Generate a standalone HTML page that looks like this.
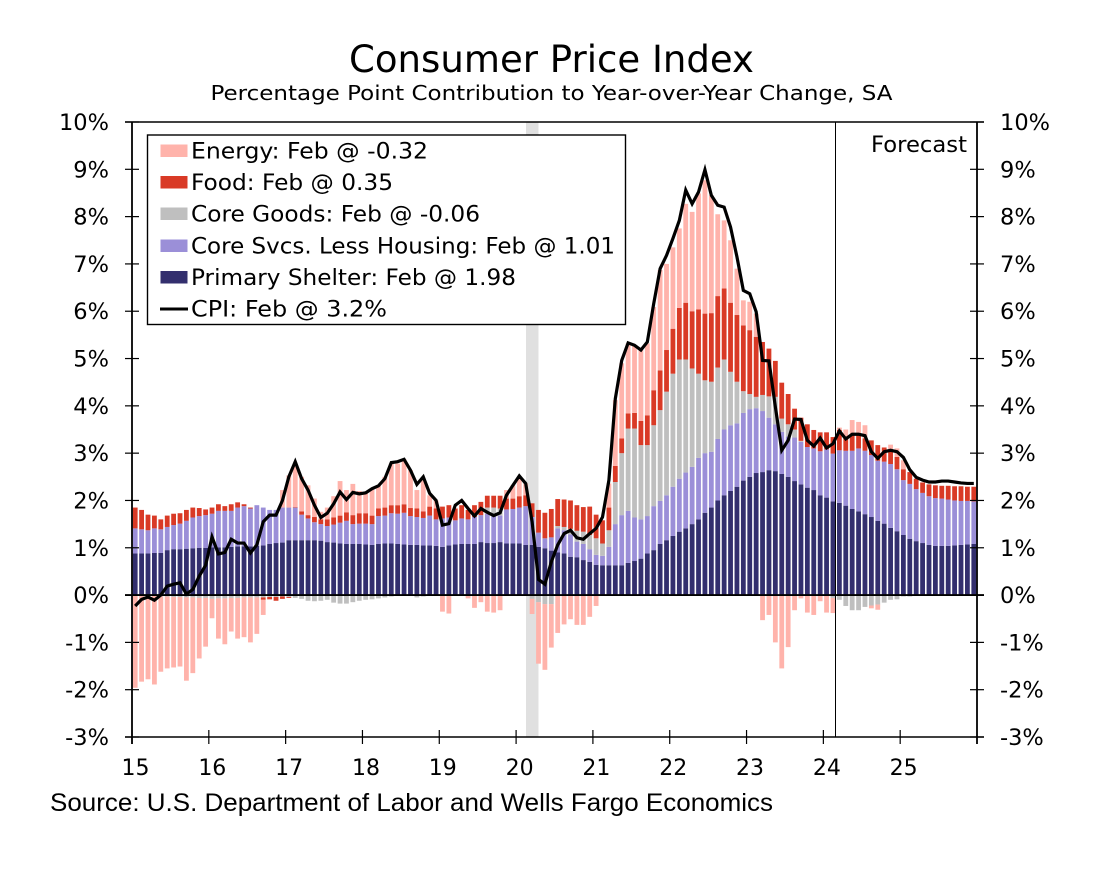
<!DOCTYPE html>
<html lang="en">
<head>
<meta charset="utf-8">
<title>Consumer Price Index</title>
<style>
html,body{margin:0;padding:0;background:#fff;}
svg{display:block;}
text{font-family:"DejaVu Sans","Liberation Sans",sans-serif;fill:#000;}
</style>
</head>
<body>
<svg id="chart" width="1118" height="892" viewBox="0 0 1118 892" xmlns="http://www.w3.org/2000/svg">
  <text x="551.5" y="72" font-size="37" text-anchor="middle" textLength="405" lengthAdjust="spacingAndGlyphs">Consumer Price Index</text>
  <text x="551.5" y="100" font-size="20.5" text-anchor="middle" textLength="682" lengthAdjust="spacingAndGlyphs">Percentage Point Contribution to Year-over-Year Change, SA</text>
  <rect x="526" y="122" width="12.5" height="615" fill="#e0e0e0"/>
  <g id="bars"></g>
  <g id="axes"></g>
  <line x1="835.5" y1="122" x2="835.5" y2="737" stroke="#000" stroke-width="1"/>
  <path id="cpi-line" fill="none" stroke="#000" stroke-width="3.2" stroke-linejoin="miter"/>
  <text x="967" y="152" font-size="22" text-anchor="end" textLength="96" lengthAdjust="spacingAndGlyphs">Forecast</text>

  <g>
    <rect x="147.5" y="135" width="478" height="189.5" fill="#fff" stroke="#000" stroke-width="1.4"/>
    <g>
      <rect x="160.5" y="144.5" width="27" height="12.5" fill="#ffb3ab"/>
      <text x="191" y="158.5" font-size="22" textLength="237" lengthAdjust="spacingAndGlyphs">Energy: Feb @ -0.32</text>
    </g>
    <g>
      <rect x="160.5" y="176" width="27" height="12.5" fill="#d93a26"/>
      <text x="191" y="190" font-size="22" textLength="202" lengthAdjust="spacingAndGlyphs">Food: Feb @ 0.35</text>
    </g>
    <g>
      <rect x="160.5" y="207.5" width="27" height="12.5" fill="#bfbfbf"/>
      <text x="191" y="221.5" font-size="22" textLength="289" lengthAdjust="spacingAndGlyphs">Core Goods: Feb @ -0.06</text>
    </g>
    <g>
      <rect x="160.5" y="239.5" width="27" height="12.5" fill="#9b8fd8"/>
      <text x="191" y="253.5" font-size="22" textLength="424" lengthAdjust="spacingAndGlyphs">Core Svcs. Less Housing: Feb @ 1.01</text>
    </g>
    <g>
      <rect x="160.5" y="271" width="27" height="12.5" fill="#332f6e"/>
      <text x="191" y="285" font-size="22" textLength="325" lengthAdjust="spacingAndGlyphs">Primary Shelter: Feb @ 1.98</text>
    </g>
    <g>
      <line x1="160" y1="309" x2="188" y2="309" stroke="#000" stroke-width="3"/>
      <text x="191" y="316.5" font-size="22" textLength="196" lengthAdjust="spacingAndGlyphs">CPI: Feb @ 3.2%</text>
    </g>
  </g>

  <text x="50" y="811" font-size="25" textLength="723" lengthAdjust="spacingAndGlyphs" style="font-family:'Liberation Sans',sans-serif">Source: U.S. Department of Labor and Wells Fargo Economics</text>
</svg>
<script>
var yearLabels = ["15","16","17","18","19","20","21","22","23","24","25"];
var yTickValues = [-3,-2,-1,0,1,2,3,4,5,6,7,8,9,10];

var shelter = [
.88,.88,.88,.89,.89,.95,.97,.97,.98,.99,1.0,1.0,
1.01,1.01,1.01,1.02,1.03,1.03,1.03,1.04,1.05,1.08,1.1,1.11,
1.16,1.16,1.16,1.16,1.16,1.15,1.12,1.11,1.09,1.08,1.08,1.08,
1.07,1.06,1.08,1.09,1.09,1.08,1.07,1.06,1.06,1.05,1.05,1.04,
1.02,1.05,1.07,1.08,1.08,1.08,1.12,1.1,1.1,1.12,1.09,1.09,
1.09,1.06,1.06,1.02,.99,.94,.9,.88,.81,.8,.74,.7,
.64,.63,.63,.63,.63,.68,.72,.77,.88,.95,1.08,1.16,
1.25,1.34,1.41,1.5,1.6,1.74,1.85,2.0,2.11,2.2,2.29,2.42,
2.5,2.58,2.6,2.64,2.62,2.56,2.5,2.41,2.34,2.27,2.22,2.11,
2.06,1.98,1.95,1.89,1.82,1.77,1.71,1.65,1.57,1.51,1.42,1.35,
1.27,1.19,1.14,1.1,1.06,1.04,1.04,1.04,1.05,1.06,1.07,1.08];

var coreServices = [
.53,.51,.49,.52,.5,.49,.51,.54,.59,.65,.67,.69,
.71,.77,.77,.76,.82,.85,.8,.86,.8,.72,.7,.74,
.69,.69,.54,.46,.38,.35,.34,.38,.44,.49,.42,.43,
.44,.44,.59,.59,.64,.64,.67,.61,.59,.58,.63,.56,
.6,.59,.51,.54,.52,.57,.57,.62,.59,.56,.72,.73,
.76,.82,.59,.3,.21,.28,.51,.49,.47,.33,.34,.27,
.21,.2,.39,.87,1.06,1.1,.92,.83,.79,.93,.91,.95,
1.04,1.12,1.18,1.21,1.3,1.26,1.18,1.3,1.39,1.39,1.34,1.43,
1.43,1.37,1.29,1.11,.99,.89,.85,.92,.9,.86,.88,.93,
1.02,1.01,1.11,1.16,1.23,1.33,1.34,1.31,1.27,1.31,1.35,1.31,
1.16,1.16,1.1,1.06,1.03,1.01,1.0,.98,.95,.93,.92,.9];

var coreGoods = [
-.02,-.02,-.02,-.02,-.03,-.03,-.04,-.04,-.05,-.05,-.06,-.06,
-.08,-.07,-.07,-.06,-.06,-.05,-.05,-.05,-.05,-.04,-.04,-.03,
-.04,-.06,-.08,-.12,-.13,-.12,-.1,-.16,-.18,-.18,-.15,-.12,
-.1,-.09,-.07,-.05,-.03,-.02,-.01,-.02,-.05,-.03,-.01,0,
0,0,0,0,0,0,0,.13,.16,.15,0,0,
-.01,-.01,-.08,-.15,-.19,-.19,.05,.07,.12,.23,.26,.3,
.35,.26,.35,.89,1.31,1.74,1.88,1.57,1.5,1.71,1.92,2.19,
2.39,2.52,2.39,2.08,1.78,1.54,1.48,1.51,1.48,1.13,.88,.46,
.32,.24,.34,.45,.58,.28,.26,.17,.02,0,0,0,
0,-.06,-.1,-.23,-.32,-.32,-.25,-.22,-.2,-.16,-.1,-.09,
-.03,-.03,-.01,0,0,0,0,0,0,0,0,0];

var food = [
.44,.41,.33,.27,.21,.24,.24,.22,.23,.21,.17,.12,
.13,.14,.1,.14,.11,.04,.02,0,-.05,-.05,-.08,-.05,
-.02,.01,.07,.07,.11,.1,.14,.15,.15,.18,.19,.22,
.22,.18,.16,.17,.17,.18,.18,.17,.18,.14,.19,.23,
.25,.26,.25,.28,.2,.25,.28,.25,.25,.27,.23,.22,
.24,.23,.29,.48,.54,.6,.57,.58,.6,.54,.52,.6,
.5,.49,.48,.34,.31,.32,.33,.51,.63,.74,.84,.88,
.95,1.09,1.2,1.21,1.36,1.41,1.45,1.51,1.5,1.46,1.41,1.39,
1.35,1.27,1.12,1.01,.76,.76,.64,.44,.49,.48,.39,.4,
.36,.35,.43,.3,.33,.28,.26,.31,.33,.3,.26,.26,
.23,.25,.22,.22,.25,.27,.27,.29,.3,.31,.3,.31];

var energy = [
-1.94,-1.81,-1.76,-1.87,-1.59,-1.52,-1.49,-1.47,-1.76,-1.6,-1.28,-1.03,
-.41,-.85,-.97,-.71,-.86,-.84,-.95,-.77,-.32,0,0,.37,
.68,.86,.73,.63,.39,.16,.25,.45,.73,.47,.66,.47,
.45,.57,.49,.65,.88,.88,.95,.8,.39,.66,.24,.17,
-.35,-.39,0,0,-.07,-.27,-.15,-.35,-.37,-.32,.18,.28,
.41,.25,-.32,-1.3,-1.39,-.92,-.8,-.62,-.51,-.63,-.63,-.46,
-.23,0,.51,1.39,1.59,1.48,1.43,1.5,1.52,1.76,2.12,1.82,
1.72,1.68,2.09,2.1,2.45,2.82,2.49,1.73,1.44,1.32,.98,.53,
.6,.49,-.53,-.42,-1.0,-1.55,-1.1,-.32,-.07,-.37,-.42,-.13,
-.37,-.32,.05,.15,.32,.28,.28,-.06,-.11,0,.15,.18,
.19,0,0,0,0,0,0,0,0,0,0,0];

var cpi = [
-.23,-.09,-.04,-.11,0,.19,.23,.26,.02,.12,.4,.63,
1.23,.87,.9,1.18,1.1,1.1,.89,1.06,1.55,1.69,1.69,2.0,
2.5,2.82,2.46,2.22,1.9,1.64,1.73,1.93,2.18,2.02,2.17,2.14,
2.16,2.25,2.31,2.46,2.8,2.82,2.87,2.64,2.34,2.5,2.15,2.0,
1.48,1.51,1.9,2.0,1.83,1.67,1.83,1.75,1.68,1.74,2.11,2.32,
2.52,2.36,1.55,.33,.23,.7,1.06,1.3,1.37,1.21,1.18,1.3,
1.41,1.65,2.43,4.15,4.96,5.33,5.28,5.18,5.35,6.16,6.9,7.18,
7.54,7.92,8.56,8.27,8.52,8.99,8.45,8.24,8.2,7.78,7.15,6.44,
6.37,5.99,4.96,4.95,3.98,3.06,3.27,3.72,3.71,3.27,3.15,3.32,
3.11,3.2,3.47,3.3,3.4,3.4,3.37,3.03,2.89,3.03,3.06,3.03,
2.91,2.65,2.49,2.43,2.39,2.39,2.41,2.41,2.39,2.37,2.36,2.36];

var SVGNS = "http://www.w3.org/2000/svg";
var plotLeft = 132, plotRight = 977, plotTop = 122, plotBottom = 737;
var yMin = -3, yMax = 10;

function xScale(i){ return plotLeft + (plotRight - plotLeft) * i / shelter.length; }
function yScale(v){ return plotBottom - (v - yMin) / (yMax - yMin) * (plotBottom - plotTop); }

function make(tag, attrs){
  var el = document.createElementNS(SVGNS, tag);
  for (var k in attrs) el.setAttribute(k, attrs[k]);
  return el;
}

var barsGroup = document.getElementById("bars");
var seriesList = [
  {key:"primary-shelter", values:shelter, color:"#332f6e"},
  {key:"core-services", values:coreServices, color:"#9b8fd8"},
  {key:"core-goods", values:coreGoods, color:"#bfbfbf"},
  {key:"food", values:food, color:"#d93a26"},
  {key:"energy", values:energy, color:"#ffb3ab"}
];
var barWidth = 4.8;
for (var i = 0; i < shelter.length; i++) {
  var up = 0, down = 0;
  var step = xScale(1) - xScale(0);
  var bx = xScale(i) + (step - barWidth) / 2;
  for (var s = 0; s < seriesList.length; s++) {
    var v = seriesList[s].values[i];
    if (!v) continue;
    var start = v > 0 ? up : down;
    var end = start + v;
    if (v > 0) up = end; else down = end;
    var y0 = yScale(Math.max(start, end));
    var y1 = yScale(Math.min(start, end));
    var r = make("rect", {x: bx.toFixed(2), y: y0.toFixed(2), width: barWidth, height: (y1 - y0).toFixed(2), fill: seriesList[s].color});
    
    
    barsGroup.appendChild(r);
  }
}

var axes = document.getElementById("axes");
function axisLine(name, x1, y1, x2, y2, w){
  var l = make("line", {x1:x1, y1:y1, x2:x2, y2:y2, stroke:"#000", "stroke-width":w});
  
  
  axes.appendChild(l);
}
axisLine("left-axis", plotLeft, plotTop, plotLeft, plotBottom + 7, 1.8);
axisLine("right-axis", plotRight, plotTop, plotRight, plotBottom + 7, 1.8);
axisLine("top-border", plotLeft - 7, plotTop, plotRight + 7, plotTop, 1.4);
axisLine("x-axis", plotLeft - 7, plotBottom, plotRight + 7, plotBottom, 1.4);
axisLine("zero-line", plotLeft - 7, yScale(0), plotRight + 7, yScale(0), 1.8);

yTickValues.forEach(function(v){
  var y = yScale(v);
  axisLine("y-tick-left", plotLeft - 7, y, plotLeft + 7, y, 1.2);
  axisLine("y-tick-right", plotRight - 7, y, plotRight + 7, y, 1.2);
  var left = make("text", {x:109, y:(y + 8).toFixed(1), "font-size":22.5, "text-anchor":"end"});
  
  
  left.textContent = v + "%";
  axes.appendChild(left);
  var right = make("text", {x:1000, y:(y + 8).toFixed(1), "font-size":22.5});
  
  
  right.textContent = v + "%";
  axes.appendChild(right);
});

yearLabels.forEach(function(lab, k){
  var x = xScale(k * 12);
  axisLine("x-tick", x, plotBottom - 7, x, plotBottom + 7, 1.2);
  var t = make("text", {x:x + 3.5, y:775, "font-size":22, "text-anchor":"middle"});
  
  
  t.textContent = lab;
  axes.appendChild(t);
});

var d = "";
for (var j = 0; j < cpi.length; j++) {
  d += (j ? "L" : "M") + (xScale(j) + (xScale(1) - xScale(0)) / 2).toFixed(2) + " " + yScale(cpi[j]).toFixed(2);
}
document.getElementById("cpi-line").setAttribute("d", d);
</script>
</body>
</html>
